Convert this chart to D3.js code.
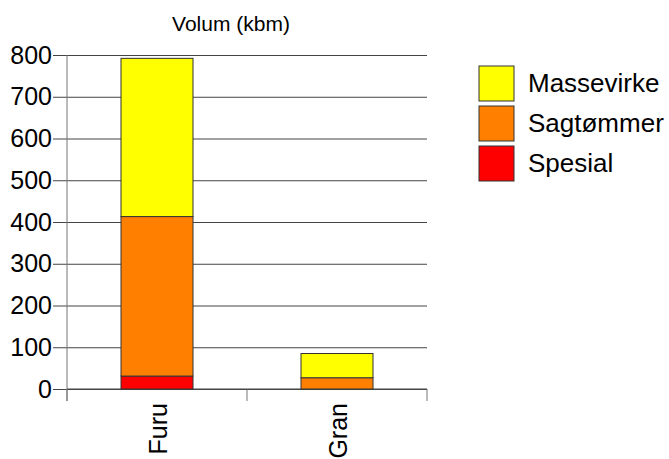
<!DOCTYPE html>
<html>
<head>
<meta charset="utf-8">
<script src="https://cdn.jsdelivr.net/npm/d3@7"></script>
<style>
  body { margin: 0; background: #fff; }
  svg { font-family: "Liberation Sans", Arial, sans-serif; }
</style>
</head>
<body>
<svg id="chart" width="669" height="459"></svg>
<script>
// data
var categories = ['Furu', 'Gran'];
var seriesNames = ['Spesial', 'Sagtømmer', 'Massevirke'];
var spesial    = [31, 0];
var sagtommer  = [382, 27];
var massevirke = [379, 58];
var yTicks = [0, 100, 200, 300, 400, 500, 600, 700, 800];
var colors = ['#ff0000', '#ff8000', '#ffff00'];

var rows = categories.map(function(c, i) {
  return { cat: c, Spesial: spesial[i], 'Sagtømmer': sagtommer[i], Massevirke: massevirke[i] };
});

var margin = { top: 55, left: 67 };
var width = 360, height = 334;

var svg = d3.select('#chart');
var g = svg.append('g').attr('transform', 'translate(' + margin.left + ',' + margin.top + ')');

var x = d3.scaleBand().domain(categories).range([0, width]).paddingInner(0).paddingOuter(0);
var y = d3.scaleLinear().domain([0, 800]).range([height, 0]);

// gridlines
g.append('g')
  .call(d3.axisLeft(y).tickValues(yTicks).tickSize(-width).tickFormat(''))
  .call(function(a) {
    a.select('.domain').remove();
    a.selectAll('line').attr('stroke', '#444').attr('stroke-width', 1);
  });

// y axis
g.append('g')
  .call(d3.axisLeft(y).tickValues(yTicks).tickSize(14).tickPadding(1))
  .call(function(a) {
    a.select('.domain').remove();
    a.selectAll('line').attr('stroke', '#444');
    a.selectAll('text').attr('fill', '#000').attr('font-size', 25).attr('font-family', 'inherit');
  });
g.append('line')
  .attr('x1', 0).attr('x2', 0).attr('y1', 0).attr('y2', height + 12)
  .attr('stroke', '#777');

// x axis: ticks between categories
var boundaries = [0].concat(categories.map(function(c) { return x(c) + x.bandwidth(); }));
g.append('g').selectAll('line.xt').data(boundaries).enter().append('line')
  .attr('x1', function(d) { return d; }).attr('x2', function(d) { return d; })
  .attr('y1', height).attr('y2', height + 12)
  .attr('stroke', '#777');
g.append('line')
  .attr('x1', 0).attr('x2', width).attr('y1', height).attr('y2', height)
  .attr('stroke', '#444');

// stacked bars
var stack = d3.stack().keys(seriesNames)(rows);
var barW = x.bandwidth() * 0.4;
g.selectAll('g.layer').data(stack).enter().append('g')
  .attr('fill', function(d, i) { return colors[i]; })
  .selectAll('rect').data(function(d) { return d; }).enter().append('rect')
  .filter(function(d) { return d[1] - d[0] > 0; })
  .attr('x', function(d) { return x(d.data.cat) + (x.bandwidth() - barW) / 2; })
  .attr('y', function(d) { return y(d[1]); })
  .attr('width', barW)
  .attr('height', function(d) { return y(d[0]) - y(d[1]); })
  .attr('stroke', '#333')
  .attr('stroke-width', 1);

// category labels (rotated)
g.selectAll('text.cat').data(categories).enter().append('text')
  .attr('transform', function(d) {
    return 'translate(' + (x(d) + x.bandwidth() / 2 + 10) + ',' + (height + 14) + ') rotate(-90)';
  })
  .attr('text-anchor', 'end')
  .attr('font-size', 25)
  .attr('fill', '#000')
  .text(function(d) { return d; });

// title
svg.append('text')
  .attr('x', 231).attr('y', 31)
  .attr('text-anchor', 'middle')
  .attr('font-size', 21)
  .text('Volum (kbm)');

// legend (top to bottom: Massevirke, Sagtømmer, Spesial)
var legendItems = seriesNames.slice().reverse();
var legend = svg.append('g').attr('transform', 'translate(479,66)');
legendItems.forEach(function(name, i) {
  var idx = seriesNames.indexOf(name);
  legend.append('rect')
    .attr('x', 0).attr('y', i * 40)
    .attr('width', 35).attr('height', 35)
    .attr('fill', colors[idx])
    .attr('stroke', '#333');
  legend.append('text')
    .attr('x', 49).attr('y', i * 40 + 26)
    .attr('font-size', 26)
    .text(name);
});
</script>
</body>
</html>
